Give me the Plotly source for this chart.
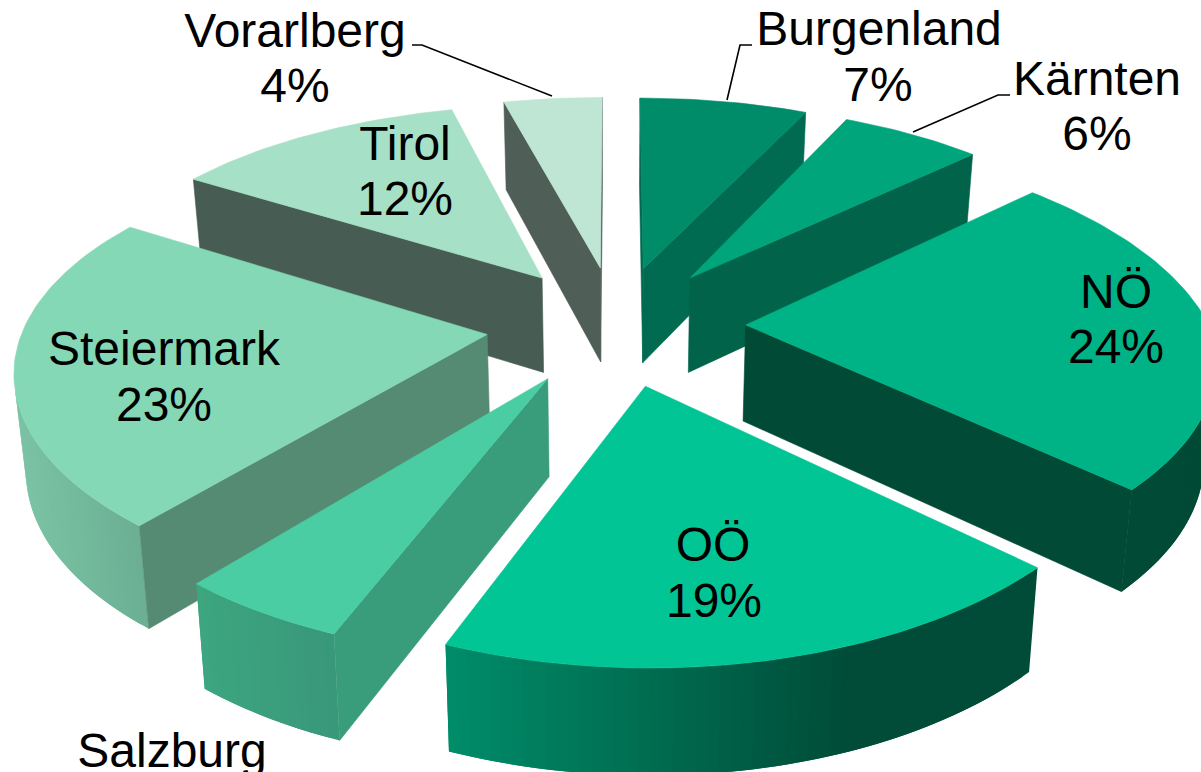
import math
import plotly.graph_objects as go

# ---- data ----
labels = ["Burgenland", "Kärnten", "NÖ", "OÖ", "Salzburg", "Steiermark", "Tirol", "Vorarlberg"]
values = [7, 6, 24, 19, 5, 23, 12, 4]
value_text = ["7%", "6%", "24%", "19%", "5%", "23%", "12%", "4%"]

# ---- style ----
top_colors = ["#008C69", "#00A57C", "#00B386", "#02C595", "#4ACDA2", "#84D8B6", "#A6E0C6", "#BFE6D5"]
cut_colors = ["#006B50", "#00634A", "#004A36", "#004C38", "#399C7A", "#558A73", "#475C52", "#4F5E56"]
rim_left = ["#006B50", "#00634A", "#004A36", "#008C69", "#3DA580", "#7BC2A4", "#475C52", "#4F5E56"]
rim_right = ["#006B50", "#00634A", "#004A36", "#004C38", "#389779", "#69AE92", "#475C52", "#4F5E56"]
rim_span = [(0, 1), (0, 1), (0, 1), (450, 850), (200, 340), (20, 150), (0, 1), (0, 1)]

label_xy = [(879, 33), (1097, 83), (1116, 296), (713, 549), (172, 755), (164, 353), (405, 148), (295, 35)]
value_xy = [(878, 89), (1097, 138), (1116, 351), (714, 605), (172, 810), (164, 409), (405, 203), (295, 90)]
leaders = [
    ([412, 422, 552], [45, 45, 96]),
    ([752, 740, 727], [45, 45, 100]),
    ([1010, 998, 913], [95, 95, 132]),
]

# ---- projection ----
CX, CY = 616, 325
A, B, K, KX = 463, 214.5, 0.16, 0.138
SKEW = 15
EXPLODE = 0.28
HEIGHT = 96
SHRINK = 0.98
FONT = 48


def project(X, Y):
    skew = SKEW * max(X, 0) ** 2 * max(Y, 0)
    return CX + A * X / (1 + KX * Y) - skew, CY - B * Y / (1 + K * Y)


def lower(X, Y):
    s = 1 / (1 + K * Y)
    x, y = project(X, Y)
    return CX + (x - CX) * SHRINK, y + HEIGHT * s ** 0.5


def area(pts):
    t = 0
    for i in range(len(pts)):
        x1, y1 = pts[i]
        x2, y2 = pts[(i + 1) % len(pts)]
        t += x1 * y2 - x2 * y1
    return t


def hex_mix(c1, c2, t):
    a = [int(c1[i:i + 2], 16) for i in (1, 3, 5)]
    b = [int(c2[i:i + 2], 16) for i in (1, 3, 5)]
    return "#%02X%02X%02X" % tuple(round(u + (v - u) * t) for u, v in zip(a, b))


fig = go.Figure()


def poly(pts, color, stroke=0.6):
    fig.add_trace(go.Scatter(
        x=[p[0] for p in pts] + [pts[0][0]],
        y=[p[1] for p in pts] + [pts[0][1]],
        mode="lines", fill="toself", fillcolor=color,
        line=dict(color=color, width=stroke),
        hoverinfo="skip", showlegend=False))


for lx, ly in leaders:
    fig.add_trace(go.Scatter(x=lx, y=ly, mode="lines", line=dict(color="#000000", width=1.6),
                             hoverinfo="skip", showlegend=False))

total = sum(values)
slices = []
run = 0
for i, v in enumerate(values):
    a0 = 2 * math.pi * run / total
    a1 = 2 * math.pi * (run + v) / total
    mid = (a0 + a1) / 2
    slices.append((i, a0, a1, EXPLODE * math.sin(mid), EXPLODE * math.cos(mid)))
    run += v

# painter's order: far slices first
for i, a0, a1, ox, oy in sorted(slices, key=lambda s: -s[4]):
    n = max(2, int((a1 - a0) / math.radians(1.2)))
    angs = [a0 + (a1 - a0) * j / n for j in range(n + 1)]
    world = [(ox + math.sin(t), oy + math.cos(t)) for t in angs]
    tip_t, tip_b = project(ox, oy), lower(ox, oy)
    # outer rim, horizontal gradient; each strip overlaps the next to hide seams
    x0, x1 = rim_span[i]
    for j in range(n):
        k = min(n, j + 2)
        probe = [project(*world[j]), project(*world[j + 1]), lower(*world[j + 1]), lower(*world[j])]
        if area(probe) < 0:
            xm = (probe[0][0] + probe[1][0]) / 2
            t = min(1, max(0, (xm - x0) / (x1 - x0)))
            q = [project(*world[m]) for m in range(j, k + 1)] + [lower(*world[m]) for m in range(k, j - 1, -1)]
            poly(q, hex_mix(rim_left[i], rim_right[i], t), 0)
    # radial cut faces
    for idx, sign in ((0, -1), (-1, 1)):
        q = [tip_t, project(*world[idx]), lower(*world[idx]), tip_b]
        if area(q) * sign > 0:
            poly(q, cut_colors[i])
    poly([tip_t] + [project(*w) for w in world], top_colors[i])

fig.add_trace(go.Scatter(
    x=[p[0] for p in label_xy] + [p[0] for p in value_xy],
    y=[p[1] for p in label_xy] + [p[1] for p in value_xy],
    text=labels + value_text, mode="text", textposition="middle center",
    textfont=dict(family="Liberation Sans", size=FONT, color="#000000"),
    hoverinfo="skip", showlegend=False, cliponaxis=True))

fig.update_layout(
    width=1201, height=772, margin=dict(l=0, r=0, t=0, b=0),
    paper_bgcolor="#FFFFFF", plot_bgcolor="#FFFFFF", showlegend=False,
    xaxis=dict(range=[0, 1201], visible=False, fixedrange=True),
    yaxis=dict(range=[772, 0], visible=False, fixedrange=True),
)
fig.write_html("out.html", config={"displayModeBar": False},
               post_script="document.body.style.margin='0';document.body.style.overflow='hidden';")
